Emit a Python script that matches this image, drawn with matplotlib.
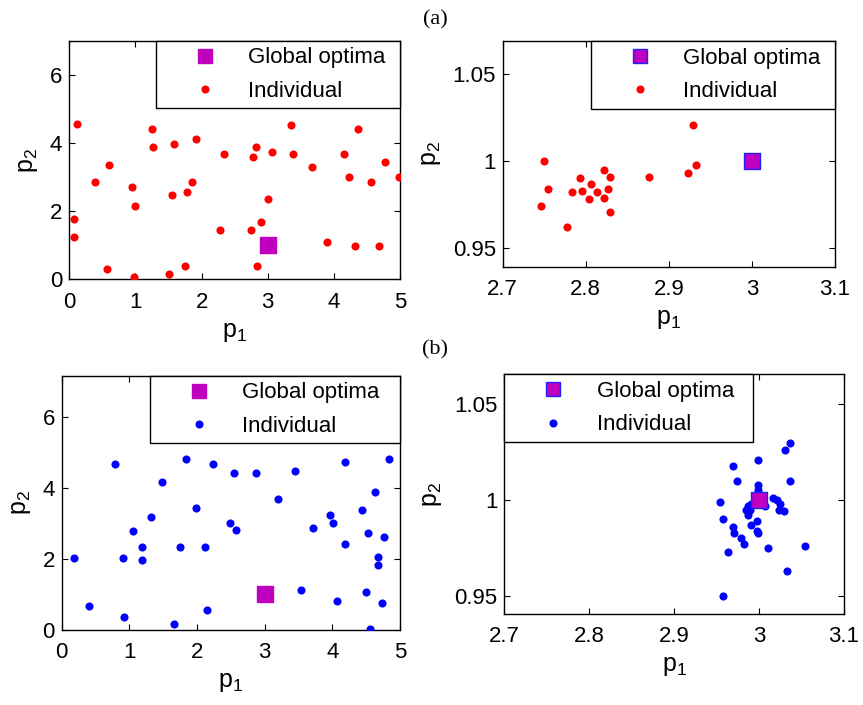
import matplotlib
matplotlib.use("Agg")
import matplotlib.pyplot as plt
from matplotlib.lines import Line2D

plt.rcParams["font.family"] = ["Liberation Sans", "DejaVu Sans"]
plt.rcParams["mathtext.default"] = "regular"

# (a) initial population over the full search range
a_full_p1 = [0.12, 1.245, 1.27, 1.59, 1.915, 3.35, 4.37, 0.605, 0.39, 0.95, 1.00, 1.56, 1.78,
             1.86, 2.34, 2.77, 2.82, 3.06, 3.38, 3.67, 4.16, 4.23, 4.56, 4.77, 4.98, 3.01,
             2.90, 2.28, 2.74, 0.07, 0.07, 0.575, 0.98, 1.51, 1.75, 2.84, 3.89, 4.32, 4.69]
a_full_p2 = [4.57, 4.42, 3.89, 3.98, 4.13, 4.52, 4.42, 3.35, 2.86, 2.71, 2.16, 2.46, 2.55,
             2.85, 3.69, 3.58, 3.87, 3.73, 3.69, 3.29, 3.69, 3.00, 2.85, 3.45, 3.00, 2.36,
             1.67, 1.44, 1.44, 1.77, 1.23, 0.30, 0.06, 0.15, 0.40, 0.40, 1.09, 0.99, 0.99]

# (a) final population, zoomed around the optimum
a_zoom_p1 = [2.750, 2.754, 2.746, 2.778, 2.784, 2.793, 2.795, 2.806, 2.804, 2.814, 2.822,
             2.822, 2.827, 2.829, 2.829, 2.876, 2.923, 2.929, 2.933]
a_zoom_p2 = [1.000, 0.984, 0.974, 0.962, 0.982, 0.990, 0.983, 0.987, 0.978, 0.982, 0.995,
             0.979, 0.984, 0.991, 0.971, 0.991, 0.993, 1.021, 0.998]

# (b) initial population over the full search range
b_full_p1 = [0.79, 1.83, 2.23, 1.48, 2.55, 2.87, 3.45, 4.18, 4.84, 3.19, 1.99, 1.32, 4.63,
             4.44, 3.96, 4.01, 2.49, 2.58, 3.72, 1.05, 1.19, 1.75, 2.12, 4.18, 4.52, 4.76,
             4.68, 4.68, 0.18, 0.90, 1.19, 3.54, 4.50, 4.07, 4.74, 0.41, 0.92, 2.15, 1.66, 4.55]
b_full_p2 = [4.66, 4.82, 4.66, 4.17, 4.42, 4.42, 4.47, 4.72, 4.82, 3.67, 3.42, 3.17, 3.87,
             3.37, 3.22, 3.02, 3.02, 2.81, 2.87, 2.77, 2.32, 2.32, 2.32, 2.42, 2.72, 2.62,
             2.06, 1.82, 2.02, 2.02, 1.97, 1.12, 1.07, 0.82, 0.77, 0.67, 0.37, 0.56, 0.16, 0.02]

# (b) final population, zoomed around the optimum
b_zoom_p1 = [3.037, 3.031, 2.999, 2.969, 2.974, 3.037, 2.999, 2.999, 2.954, 3.016, 3.021,
             3.025, 3.007, 2.990, 2.987, 2.985, 2.989, 3.024, 3.029, 2.987, 2.958, 2.997,
             2.990, 2.969, 2.971, 2.997, 2.999, 2.979, 2.982, 3.010, 3.054, 2.963, 3.033, 2.958]
b_zoom_p2 = [1.030, 1.026, 1.021, 1.018, 1.010, 1.010, 1.008, 1.005, 0.999, 1.001, 1.000,
             0.998, 0.997, 0.998, 0.997, 0.995, 0.995, 0.995, 0.994, 0.992, 0.990, 0.989,
             0.987, 0.986, 0.983, 0.984, 0.983, 0.980, 0.977, 0.975, 0.976, 0.973, 0.963, 0.950]

optimum = (3.0, 1.0)

MAGENTA = "#bf00bf"
W, H = 863, 705


def px_axes(fig, left, right, top, bottom):
    return fig.add_axes([left / W, 1 - bottom / H, (right - left) / W, (bottom - top) / H])


def panel(ax, p1, p2, color, sq_edge, xlim, ylim, xticks, yticks, ytl, leg_px):
    ax.scatter(p1, p2, s=34, color=color, linewidths=0, zorder=3)
    ax.scatter([optimum[0]], [optimum[1]], s=120, marker="s", color=MAGENTA,
               edgecolors=sq_edge, linewidths=1.0, zorder=4)
    ax.set_xlim(*xlim)
    ax.set_ylim(*ylim)
    ax.set_xticks(xticks)
    ax.set_yticks(yticks)
    ax.set_yticklabels(ytl)
    ax.tick_params(direction="in", top=True, right=True, labelsize=16, length=4, width=0.8)
    ax.tick_params(axis="x", pad=9)
    ax.tick_params(axis="y", pad=5)
    for s in ax.spines.values():
        s.set_linewidth(1.0)
    ax.set_xlabel(r"$\mathregular{p_1}$", fontsize=18, labelpad=5)
    ax.set_ylabel(r"$\mathregular{p_2}$", fontsize=18, labelpad=7)
    handles = [
        Line2D([], [], ls="none", marker="s", ms=10.5, color=MAGENTA, mec=sq_edge),
        Line2D([], [], ls="none", marker="o", ms=4.8, color=color, mec=color),
    ]
    # legend box given in figure pixels: left, right, top
    x0, x1, top = leg_px
    leg = ax.legend(handles, ["Global optima", "Individual"], loc="upper left",
                    bbox_to_anchor=(x0 / W, 1 - (top + 80) / H, (x1 - x0) / W, 80 / H),
                    bbox_transform=fig.transFigure, mode="expand", fontsize=16,
                    borderaxespad=0, fancybox=False, framealpha=1, edgecolor="black",
                    handlelength=3.8, handletextpad=0.05, borderpad=0.3, labelspacing=0.56)
    leg.get_frame().set_linewidth(1.0)
    leg.set_zorder(5)


fig = plt.figure(figsize=(W / 100, H / 100), dpi=100)

ax1 = px_axes(fig, 69.3, 400, 40.7, 279.3)
panel(ax1, a_full_p1, a_full_p2, "red", MAGENTA, (0, 5), (0, 7.0),
      range(6), [0, 2, 4, 6], ["0", "2", "4", "6"], (156, 400, 40.7))

ax2 = px_axes(fig, 502.7, 835, 41, 266.7)
panel(ax2, a_zoom_p1, a_zoom_p2, "red", "#2020ff", (2.7, 3.1), (0.9393, 1.069),
      [2.7, 2.8, 2.9, 3.0, 3.1], [0.95, 1.0, 1.05], ["0.95", "1", "1.05"], (591, 835, 41))
ax2.set_xticklabels(["2.7", "2.8", "2.9", "3", "3.1"])

ax3 = px_axes(fig, 61.7, 400, 375.7, 630)
panel(ax3, b_full_p1, b_full_p2, "blue", MAGENTA, (0, 5), (0, 7.15),
      range(6), [0, 2, 4, 6], ["0", "2", "4", "6"], (150, 400, 375.7))

ax4 = px_axes(fig, 504.3, 844, 374.3, 614)
panel(ax4, b_zoom_p1, b_zoom_p2, "blue", "#2020ff", (2.7, 3.1), (0.9405, 1.0656),
      [2.7, 2.8, 2.9, 3.0, 3.1], [0.95, 1.0, 1.05], ["0.95", "1", "1.05"], (504.3, 753, 374.3))
ax4.set_xticklabels(["2.7", "2.8", "2.9", "3", "3.1"])

fig.text(435 / W, 1 - 20 / H, "(a)", ha="center", va="center", fontsize=16,
         family=["Liberation Serif", "DejaVu Serif"])
fig.text(435 / W, 1 - 350 / H, "(b)", ha="center", va="center", fontsize=16,
         family=["Liberation Serif", "DejaVu Serif"])

fig.savefig("out.png", dpi=100)
